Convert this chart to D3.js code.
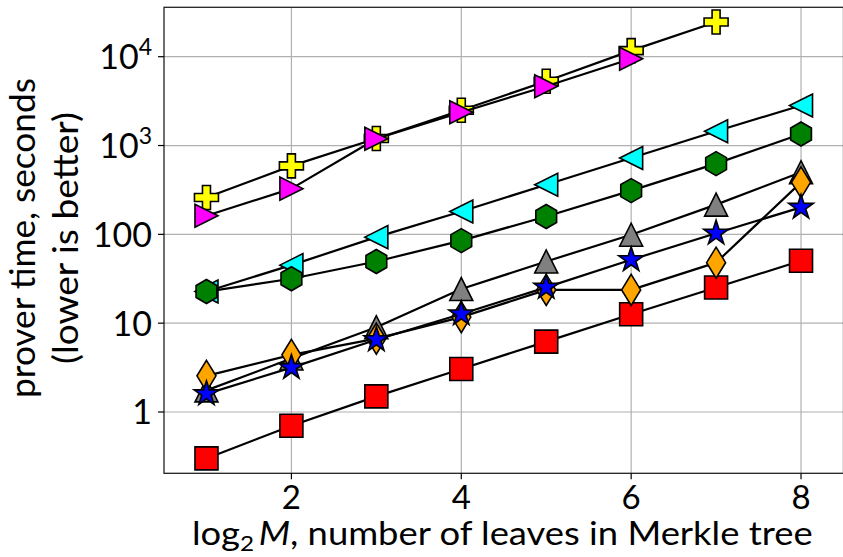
<!DOCTYPE html>
<html>
<head>
<meta charset="utf-8">
<script src="https://cdn.jsdelivr.net/npm/d3@7"></script>
<style>
  body { margin: 0; background: #fff; }
  text { font-family: Lato, "Open Sans", sans-serif; fill: #000; }
</style>
</head>
<body>
<script>
// log2 M on the x axis
var leaves = [1,2,3,4,5,6,7,8];

// prover time, seconds, one list per marker
var plusTimes    = [260, 590, 1200, 2500, 5300, 11700, 24600];
var rightTimes   = [162, 327, 1190, 2370, 4650, 9500];
var leftTimes    = [22.7, 45, 93, 181, 362, 725, 1450, 2820];
var hexTimes     = [22.7, 31.6, 49.5, 85, 159, 311, 625, 1350];
var upTimes      = [1.75, 4.0, 9.0, 24.2, 49.5, 99, 216, 500];
var diamondTimes = [2.55, 4.4, 6.7, 11.7, 23.7, 23.7, 48, 385];
var starTimes    = [1.6, 3.16, 6.5, 12.7, 25.3, 51.7, 103, 201];
var squareTimes  = [0.3, 0.7, 1.5, 3.05, 6.2, 12.6, 25.2, 50.4];

var xTicks = [2,4,6,8];
var yTicks = [1,10,100,1000,10000];

var width = 843, height = 557;
var pLeft = 164, pRight = 843.5, pTop = 7.3, pBottom = 473.3;

var svg = d3.select('body').append('svg').attr('width',width).attr('height',height);

var x = d3.scaleLinear().domain([0.5,8.5]).range([pLeft,pRight]);
var y = d3.scaleLog().domain([0.204,36000]).range([pBottom,pTop]);

// grid
var grid = svg.append('g');
grid.selectAll('line.gx').data(xTicks).enter().append('line')
  .attr('x1',function(d){return x(d);}).attr('x2',function(d){return x(d);})
  .attr('y1',pTop).attr('y2',pBottom)
  .attr('stroke','#b0b0b0').attr('stroke-width',1.2);
grid.selectAll('line.gy').data(yTicks).enter().append('line')
  .attr('y1',function(d){return y(d);}).attr('y2',function(d){return y(d);})
  .attr('x1',pLeft).attr('x2',pRight)
  .attr('stroke','#b0b0b0').attr('stroke-width',1.2);

// marker shapes
var poly = d3.line();
function closed(pts){ return poly(pts) + 'Z'; }
var shapes = {
  square: function(){ var s=11.5; return closed([[-s,-s],[s,-s],[s,s],[-s,s]]); },
  plus: function(){ var a=12, b=4; return closed([[-b,-a],[b,-a],[b,-b],[a,-b],[a,b],[b,b],[b,a],[-b,a],[-b,b],[-a,b],[-a,-b],[-b,-b]]); },
  up: function(){ var s=11.5; return closed([[0,-s],[-s,s],[s,s]]); },
  left: function(){ var s=11.5; return closed([[-s,0],[s,-s],[s,s]]); },
  right: function(){ var s=11.5; return closed([[s,0],[-s,-s],[-s,s]]); },
  hex: function(){ var r=12; return closed(d3.range(6).map(function(k){var a=-Math.PI/2+k*Math.PI/3; return [r*Math.cos(a), r*Math.sin(a)];})); },
  star: function(){ var R=13, r=R*0.382; return closed(d3.range(10).map(function(k){var a=-Math.PI/2+k*Math.PI/5, q=k%2?r:R; return [q*Math.cos(a), q*Math.sin(a)];})); },
  diamond: function(){ var w=9.5, h=15.5; return closed([[0,-h],[w,0],[0,h],[-w,0]]); }
};

var series = [
  {vals: squareTimes,  shape:'square',  fill:'#ff0000'},
  {vals: plusTimes,    shape:'plus',    fill:'#ffff00'},
  {vals: rightTimes,   shape:'right',   fill:'#ff00ff'},
  {vals: leftTimes,    shape:'left',    fill:'#00ffff'},
  {vals: hexTimes,     shape:'hex',     fill:'#008000'},
  {vals: upTimes,      shape:'up',      fill:'#808080'},
  {vals: diamondTimes, shape:'diamond', fill:'#ffa500'},
  {vals: starTimes,    shape:'star',    fill:'#0000ff'}
];

var line = d3.line()
  .x(function(d,i){return x(leaves[i]);})
  .y(function(d){return y(d);});

series.forEach(function(s){
  var g = svg.append('g');
  g.append('path').attr('d',line(s.vals))
    .attr('fill','none').attr('stroke','#000').attr('stroke-width',2.2)
    .attr('stroke-linejoin','round');
  g.selectAll('path.m').data(s.vals).enter().append('path')
    .attr('class','m')
    .attr('transform',function(d,i){return 'translate('+x(leaves[i])+','+y(d)+')';})
    .attr('d',shapes[s.shape]())
    .attr('fill',s.fill).attr('stroke','#000').attr('stroke-width',1.6)
    .attr('stroke-linejoin','miter');
});

// frame
svg.append('rect').attr('x',pLeft).attr('y',pTop).attr('width',pRight-pLeft).attr('height',pBottom-pTop)
  .attr('fill','none').attr('stroke','#222').attr('stroke-width',1.3);

// ticks
svg.selectAll('line.tx').data(xTicks).enter().append('line')
  .attr('x1',function(d){return x(d);}).attr('x2',function(d){return x(d);})
  .attr('y1',pBottom).attr('y2',pBottom+6).attr('stroke','#000').attr('stroke-width',1.2);
svg.selectAll('line.ty').data(yTicks).enter().append('line')
  .attr('y1',function(d){return y(d);}).attr('y2',function(d){return y(d);})
  .attr('x1',pLeft-6).attr('x2',pLeft).attr('stroke','#000').attr('stroke-width',1.2);

svg.selectAll('text.tx').data(xTicks).enter().append('text')
  .attr('x',function(d){return x(d);}).attr('y',509)
  .attr('text-anchor','middle').attr('font-size',33)
  .text(function(d){return d;});

var yl = svg.selectAll('text.ty').data(yTicks).enter().append('text')
  .attr('x',152).attr('y',function(d){return y(d)+12.5;})
  .attr('text-anchor','end').attr('font-size',34);
yl.each(function(d){
  var t = d3.select(this);
  if (d >= 1000) {
    t.append('tspan').text('10');
    t.append('tspan').attr('font-size',23).attr('dy',-14).text(Math.round(Math.log10(d)));
  } else {
    t.text(d);
  }
});

// axis labels
var xl = svg.append('text').attr('x',0).attr('y',0).attr('font-size',33);
xl.append('tspan').text('log');
xl.append('tspan').attr('font-size',22).attr('dy',6).text('2');
xl.append('tspan').attr('dy',-6).text('\u2009');
xl.append('tspan').attr('font-style','italic').text('M');
xl.append('tspan').text(', number of leaves in Merkle tree');
var bb = xl.node().getBBox();
var sx = 621 / bb.width;
xl.attr('transform','translate(192,545) scale('+sx+',1)');

function yLabel(str, cx, targetLen){
  var t = svg.append('text').attr('font-size',34).attr('text-anchor','middle').text(str);
  var w = t.node().getBBox().width;
  t.attr('transform','translate('+cx+',238) rotate(-90) scale('+(targetLen/w)+',1)');
}
yLabel('prover time, seconds', 35, 320);
yLabel('(lower is better)', 78, 252);
</script>
</body>
</html>
